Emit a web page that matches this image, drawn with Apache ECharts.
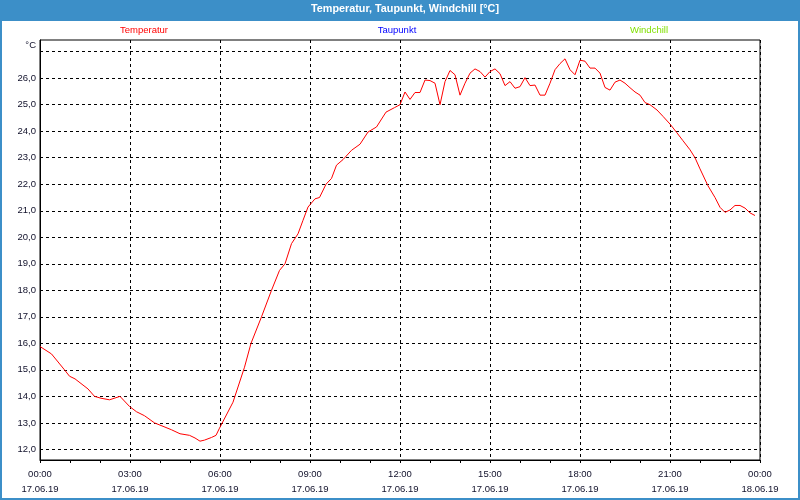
<!DOCTYPE html>
<html>
<head>
<meta charset="utf-8">
<script src="https://cdn.jsdelivr.net/npm/echarts@6/dist/echarts.min.js"></script>
<style>
  html, body { margin: 0; padding: 0; background: #fff; }
  #chart { width: 800px; height: 500px; }
</style>
</head>
<body>
<div id="chart"></div>
<script>
// ---- data ----
const chartTitle = 'Temperatur, Taupunkt, Windchill [°C]';
const seriesNames = ['Temperatur', 'Taupunkt', 'Windchill'];
const dateStart = '17.06.19';
const dateEnd = '18.06.19';
const times = [
  '00:00','00:23','00:49','00:59','01:10','01:36','01:49','02:02','02:19','02:40',
  '02:59','03:13','03:29','03:49','04:06','04:23','04:40','04:59','05:10','05:20',
  '05:29','05:43','05:52','05:59','06:26','06:49','07:02','07:23','07:43','07:59',
  '08:10','08:23','08:36','08:46','08:56','09:10','09:19','09:32','09:43','09:53',
  '10:06','10:23','10:40','10:56','11:13','11:32','11:49','12:00','12:10','12:20',
  '12:30','12:40','12:50','13:00','13:10','13:20','13:30','13:40','13:50','14:00',
  '14:10','14:20','14:30','14:40','14:50','15:00','15:10','15:20','15:30','15:40',
  '15:50','16:00','16:10','16:20','16:30','16:40','16:50','17:00','17:10','17:20',
  '17:30','17:40','17:50','18:00','18:10','18:20','18:30','18:40','18:50','19:00',
  '19:10','19:20','19:30','19:40','19:50','20:00','20:10','20:20','20:34','20:46',
  '21:00','21:13','21:26','21:40','21:50','22:00','22:16','22:30','22:40','22:50',
  '23:00','23:10','23:20','23:30','23:40','23:50'
];
const temperatur = [
  15.88,15.60,15.00,14.76,14.66,14.28,14.00,13.93,13.87,14.00,
  13.62,13.42,13.27,13.00,12.87,12.74,12.59,12.53,12.43,12.31,
  12.35,12.45,12.53,12.80,13.78,15.10,16.00,17.00,18.00,18.75,
  19.00,19.76,20.13,20.64,21.14,21.45,21.50,22.00,22.22,22.72,
  22.93,23.28,23.51,23.97,24.16,24.72,24.89,25.00,25.48,25.20,
  25.46,25.46,25.93,25.91,25.81,25.00,25.87,26.29,26.13,25.36,
  25.81,26.19,26.35,26.25,26.04,26.25,26.35,26.17,25.72,25.87,
  25.62,25.68,26.02,25.72,25.74,25.36,25.36,25.81,26.32,26.55,
  26.73,26.32,26.13,26.68,26.64,26.38,26.38,26.19,25.65,25.55,
  25.85,25.93,25.81,25.64,25.48,25.36,25.08,25.00,24.80,24.56,
  24.27,23.96,23.64,23.30,23.00,22.58,21.94,21.50,21.13,20.94,
  21.03,21.20,21.20,21.10,20.92,20.82
];
const taupunkt = [];
const windchill = [];
const yTickValues = [12,13,14,15,16,17,18,19,20,21,22,23,24,25,26];
const yGridValues = [12,13,14,15,16,17,18,19,20,21,22,23,24,25,26,27];

// ---- build ----
function toMin(t) { const p = t.split(':'); return (+p[0]) * 60 + (+p[1]); }
const tempData = times.map((t, i) => [toMin(t), temperatur[i]]);
const pad = n => (n < 10 ? '0' : '') + n;

const FONT = '"Liberation Sans", Arial, sans-serif';
const BLUE = '#3c8fc8';

const chart = echarts.init(document.getElementById('chart'), null, { renderer: 'canvas' });
chart.setOption({
  animation: false,
  backgroundColor: '#ffffff',
  textStyle: { fontFamily: FONT },
  grid: { left: 40, right: 40, top: 40, bottom: 40, show: true, borderColor: '#000', borderWidth: 1, containLabel: false },
  xAxis: {
    type: 'value', min: 0, max: 1440, interval: 180,
    axisLine: { show: true, lineStyle: { color: '#000', width: 1 } },
    axisTick: { show: true, length: 3, lineStyle: { color: '#000' } },
    minorTick: { show: true, splitNumber: 3, length: 3, lineStyle: { color: '#000' } },
    splitLine: { show: true, lineStyle: { color: '#000', type: [3, 3], width: 1 } },
    axisLabel: {
      margin: 7, color: '#10102a', fontSize: 9.5, lineHeight: 15, fontFamily: FONT,
      formatter: v => {
        const h = Math.floor(v / 60) % 24, m = v % 60;
        return pad(h) + ':' + pad(m) + '\n' + (v >= 1440 ? dateEnd : dateStart);
      }
    }
  },
  yAxis: {
    type: 'value', min: 11.6, max: 27.44,
    name: '°C', nameLocation: 'end', nameGap: -5,
    nameTextStyle: { color: '#10102a', fontSize: 9.5, fontFamily: FONT, align: 'right', verticalAlign: 'middle', padding: [0, 4, 0, 0] },
    axisLine: { show: true, lineStyle: { color: '#000', width: 1 } },
    axisTick: { show: false },
    splitLine: { show: false },
    axisLabel: {
      customValues: yTickValues, margin: 4, color: '#10102a', fontSize: 9.5, fontFamily: FONT,
      formatter: v => v.toFixed(1).replace('.', ',')
    }
  },
  series: [
    {
      name: 'grid', type: 'line', data: [], silent: true, z: 1,
      markLine: {
        silent: true, symbol: ['none', 'none'], animation: false,
        label: { show: false },
        lineStyle: { color: '#000', type: [3, 3], width: 1 },
        data: yGridValues.map(v => ({ yAxis: v }))
      }
    },
    {
      name: seriesNames[0], type: 'line', data: tempData, z: 5,
      showSymbol: false, symbol: 'none', smooth: false,
      lineStyle: { color: '#ff0000', width: 1 }
    },
    { name: seriesNames[1], type: 'line', data: taupunkt, showSymbol: false, lineStyle: { color: '#0000ff', width: 1 } },
    { name: seriesNames[2], type: 'line', data: windchill, showSymbol: false, lineStyle: { color: '#80e000', width: 1 } }
  ],
  graphic: [
    { type: 'rect', shape: { x: 0, y: 0, width: 800, height: 21 }, style: { fill: BLUE }, z: 10 },
    { type: 'rect', shape: { x: 1, y: 1, width: 798, height: 498 }, style: { fill: null, stroke: BLUE, lineWidth: 2 }, z: 10 },
    { type: 'text', x: 405, y: 9.5, style: { text: chartTitle, fill: '#fff', font: 'bold 10.8px ' + FONT, textAlign: 'center', textVerticalAlign: 'middle' }, z: 11 },
    { type: 'text', x: 144, y: 30.5, style: { text: seriesNames[0], fill: '#ff0000', font: '9.5px ' + FONT, textAlign: 'center', textVerticalAlign: 'middle' }, z: 11 },
    { type: 'text', x: 397, y: 30.5, style: { text: seriesNames[1], fill: '#0000ff', font: '9.5px ' + FONT, textAlign: 'center', textVerticalAlign: 'middle' }, z: 11 },
    { type: 'text', x: 649, y: 30.5, style: { text: seriesNames[2], fill: '#80e000', font: '9.5px ' + FONT, textAlign: 'center', textVerticalAlign: 'middle' }, z: 11 }
  ]
});
</script>
</body>
</html>
